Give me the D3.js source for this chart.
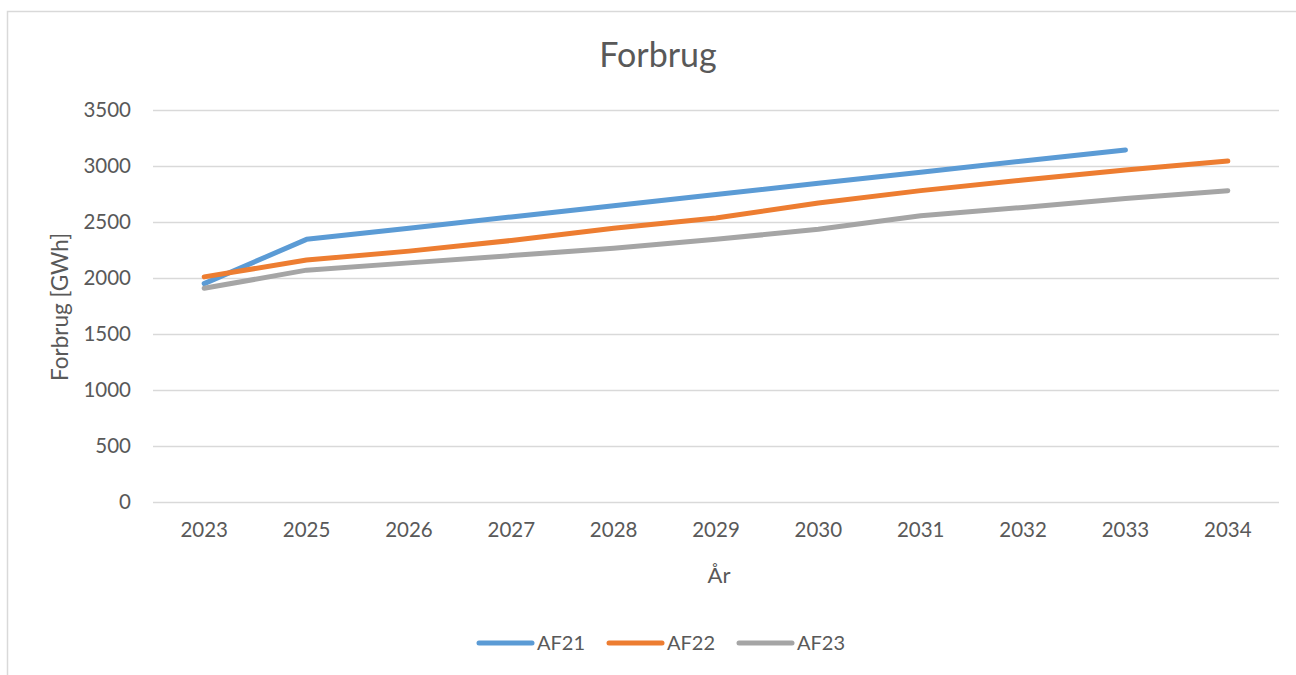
<!DOCTYPE html>
<html lang="da">
<head>
    <meta charset="utf-8">
    <title>Forbrug</title>
    <script src="https://d3js.org/d3.v7.min.js" charset="utf-8"></script>
    <style type="text/css">
        body { margin: 0; background: #fff; }
        text { font-family: Lato, "Noto Sans", sans-serif; fill: #595959; }
    </style>
</head>
<body>
	<svg width="1296" height="675"></svg>
	<script>

	    var years = ["2023", "2025", "2026", "2027", "2028", "2029", "2030", "2031", "2032", "2033", "2034"];
	    var af21 = [1950, 2345, 2445, 2545, 2645, 2745, 2845, 2945, 3045, 3143, null];
	    var af22 = [2010, 2160, 2240, 2335, 2445, 2535, 2670, 2780, 2875, 2965, 3045];
	    var af23 = [1908, 2070, 2135, 2200, 2265, 2345, 2435, 2555, 2630, 2710, 2780];
	    var yTicks = [0, 500, 1000, 1500, 2000, 2500, 3000, 3500];

	    var series = [
	        { name: "AF21", values: af21, color: "#5B9BD5" },
	        { name: "AF22", values: af22, color: "#ED7D31" },
	        { name: "AF23", values: af23, color: "#A5A5A5" }
	    ];

	    var svg = d3.select("svg"),
	        plotLeft = 153, plotRight = 1279, plotTop = 110, plotBottom = 502;

	    // chart frame (only top and left edges are inside the picture)
	    svg.append("path")
	       .attr("d", "M7.5,675V11.5H1296")
	       .attr("fill", "none")
	       .attr("stroke", "#d9d9d9")
	       .attr("stroke-width", 1.5);

	    var xScale = d3.scaleBand().domain(years).range([plotLeft, plotRight]),
	        yScale = d3.scaleLinear().domain([0, 3500]).range([plotBottom, plotTop]);

	    // grid + y axis
	    var yAxis = svg.append("g")
	       .attr("transform", "translate(" + plotLeft + ",0)")
	       .call(d3.axisLeft(yScale).tickValues(yTicks).tickFormat(d3.format("d"))
	               .tickSize(-(plotRight - plotLeft)).tickPadding(22));
	    yAxis.select(".domain").remove();
	    yAxis.selectAll("line").attr("stroke", "#d9d9d9").attr("stroke-width", 1.5);
	    yAxis.selectAll("text").style("font-size", "20.5px").style("font-family", null).attr("fill", "#595959");

	    var xAxis = svg.append("g")
	       .attr("transform", "translate(0," + plotBottom + ")")
	       .call(d3.axisBottom(xScale).tickSize(0).tickPadding(20));
	    xAxis.select(".domain").remove();
	    xAxis.selectAll("text").style("font-size", "20.5px").style("font-family", null).attr("fill", "#595959");

	    var line = d3.line()
	        .defined(function(d) { return d != null; })
	        .x(function(d, i) { return xScale(years[i]) + xScale.bandwidth() / 2; })
	        .y(function(d) { return yScale(d); });

	    svg.selectAll(".series")
	       .data(series)
	       .enter().append("path")
	       .attr("class", "series")
	       .attr("fill", "none")
	       .attr("stroke", function(d) { return d.color; })
	       .attr("stroke-width", 5)
	       .attr("stroke-linecap", "round")
	       .attr("stroke-linejoin", "round")
	       .attr("d", function(d) { return line(d.values); });

	    svg.append("text")
	       .attr("x", 658).attr("y", 67)
	       .attr("text-anchor", "middle")
	       .style("font-size", "34px")
	       .text("Forbrug");

	    svg.append("text")
	       .attr("transform", "translate(68,307) rotate(-90)")
	       .attr("text-anchor", "middle")
	       .style("font-size", "22.5px")
	       .text("Forbrug [GWh]");

	    svg.append("text")
	       .attr("x", 719).attr("y", 583)
	       .attr("text-anchor", "middle")
	       .style("font-size", "22px")
	       .text("År");

	    // legend
	    var legend = svg.append("g").selectAll("g")
	       .data(series)
	       .enter().append("g")
	       .attr("transform", function(d, i) { return "translate(" + (479 + i * 130) + ",643)"; });
	    legend.append("line")
	       .attr("x1", 0).attr("x2", 53)
	       .attr("stroke", function(d) { return d.color; })
	       .attr("stroke-width", 5)
	       .attr("stroke-linecap", "round");
	    legend.append("text")
	       .attr("x", 58).attr("y", 7)
	       .style("font-size", "20px")
	       .text(function(d) { return d.name; });

	</script>
</body>
</html>
